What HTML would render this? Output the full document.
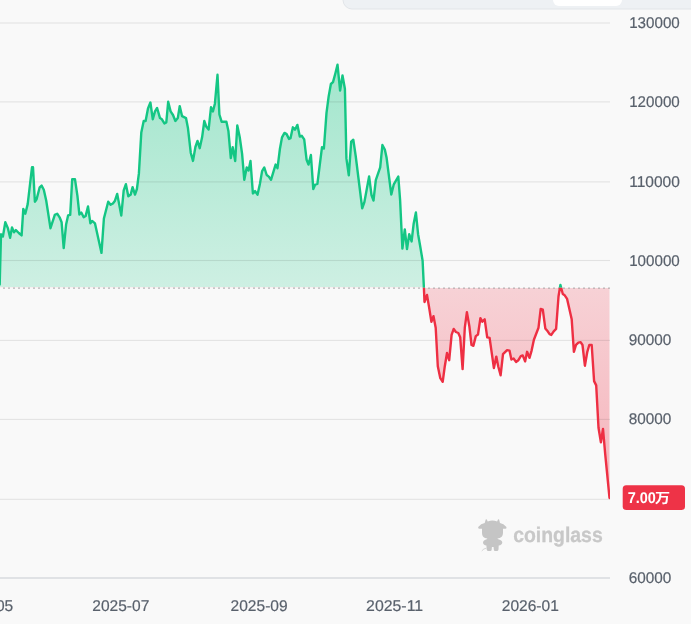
<!DOCTYPE html>
<html lang="zh"><head><meta charset="utf-8"><title>coinglass</title>
<style>
html,body{margin:0;padding:0;background:#f9f9f9;}
body{width:691px;height:624px;overflow:hidden;font-family:'Liberation Sans', sans-serif;}
svg{display:block}
.ax{text-rendering:geometricPrecision;font-family:'Liberation Sans', sans-serif;font-size:15.5px;fill:#59616c;stroke:#59616c;stroke-width:0.2px;}
</style></head><body>
<svg width="691" height="624" viewBox="0 0 691 624">
<defs>
<linearGradient id="gg" gradientUnits="userSpaceOnUse" x1="0" y1="-2" x2="0" y2="287.9">
<stop offset="0" stop-color="#16c784" stop-opacity="0.44"/><stop offset="1" stop-color="#16c784" stop-opacity="0.19"/></linearGradient>
<linearGradient id="rg" gradientUnits="userSpaceOnUse" x1="0" y1="287.9" x2="0" y2="578">
<stop offset="0" stop-color="#ee3348" stop-opacity="0.20"/><stop offset="1" stop-color="#ee3348" stop-opacity="0.41"/></linearGradient>
<clipPath id="ct"><rect x="0" y="-10" width="610" height="297.8"/></clipPath>
<clipPath id="cb"><rect x="0" y="287.8" width="610" height="400"/></clipPath>
<clipPath id="ft"><rect x="0" y="-10" width="610" height="297.0"/></clipPath>
<clipPath id="fb"><rect x="0" y="287.8" width="610" height="400"/></clipPath>
</defs>
<rect width="691" height="624" fill="#f9f9f9"/>
<!-- top panel -->
<path d="M343,-1 L343,0 A9,9 0 0 0 352,9 L692,9 L692,-1 Z" fill="#eef1f4" stroke="#e2e5e9" stroke-width="1"/>
<rect x="553" y="-8" width="69" height="14" rx="6" fill="#ffffff"/>

<path d="M-1,287.9 L-1,284 L-0.3,284.5 L1.0,234.2 L2.9,236.6 L5.3,222.2 L7.9,228.2 L10.1,237.8 L12.0,227.4 L14.0,232.3 L15.9,230.1 L18.8,233.0 L21.6,235.4 L23.3,208.9 L25.3,213.7 L27.7,204.1 L32.0,167.3 L33.0,167.3 L34.9,201.7 L36.6,199.3 L39.7,187.3 L41.6,185.6 L43.8,189.7 L46.2,200.5 L50.5,228.2 L54.8,214.9 L57.2,213.7 L59.6,217.3 L61.6,222.2 L63.7,248.1 L66.1,224.6 L68.1,215.4 L70.2,214.9 L72.2,179.3 L75.0,179.3 L77.4,195.7 L79.4,214.5 L81.3,212.5 L83.7,217.3 L85.6,216.1 L88.0,206.5 L90.4,223.4 L92.1,220.9 L95.0,223.4 L101.5,252.9 L103.9,218.5 L108.2,201.7 L110.6,204.8 L112.9,203.5 L114.8,201.1 L117.2,193.9 L121.3,215.5 L123.7,190.3 L125.9,184.2 L128.3,196.3 L130.7,194.6 L132.6,187.1 L135.0,194.6 L136.9,189.0 L138.9,173.4 L141.3,132.5 L143.7,121.0 L145.6,121.0 L148.0,108.5 L150.4,102.5 L152.8,119.3 L155.0,111.4 L157.1,108.0 L160.0,118.1 L161.9,119.3 L164.4,123.4 L166.3,122.4 L168.2,101.7 L170.6,111.4 L173.0,115.0 L175.4,121.0 L177.8,118.1 L179.7,106.1 L182.1,116.2 L186.0,118.1 L187.9,127.7 L190.8,153.0 L193.0,160.9 L195.4,147.0 L197.5,140.9 L199.7,148.2 L202.1,137.3 L204.3,121.0 L206.2,126.5 L208.6,129.6 L211.0,107.3 L212.9,111.4 L214.9,103.7 L217.5,74.8 L219.4,114.5 L221.6,121.7 L226.4,121.7 L228.4,130.9 L230.8,158.1 L232.7,147.1 L235.2,161.0 L237.3,125.4 L239.7,137.0 L242.1,153.8 L244.3,179.8 L246.7,167.5 L248.6,170.6 L250.5,161.0 L252.9,193.5 L255.1,191.1 L257.5,194.7 L259.9,183.9 L262.1,171.1 L264.3,167.5 L266.7,175.0 L268.8,176.6 L271.0,179.8 L273.4,171.8 L275.6,164.6 L277.5,168.2 L279.9,149.0 L282.0,137.4 L284.5,132.9 L286.6,134.1 L289.0,138.9 L290.5,138.2 L292.9,127.3 L295.0,129.7 L297.4,124.9 L299.8,136.5 L301.8,135.8 L304.2,139.4 L306.6,159.8 L308.5,164.6 L310.9,155.0 L313.3,189.1 L315.2,184.6 L317.4,183.9 L319.8,164.6 L322.0,147.1 L323.9,148.5 L326.5,112.9 L328.7,96.1 L330.9,84.0 L333.0,82.1 L335.4,73.2 L337.5,64.7 L340.1,90.6 L342.5,75.4 L344.9,88.7 L346.4,158.4 L348.8,175.3 L351.2,141.6 L353.3,139.7 L355.7,156.0 L362.2,208.3 L364.4,202.0 L369.1,176.5 L371.5,195.0 L373.5,200.5 L375.8,180.1 L380.2,167.4 L382.4,145.0 L384.8,149.5 L386.6,157.8 L391.3,194.5 L393.8,184.3 L398.3,176.5 L400.1,200.0 L402.4,248.6 L404.8,229.4 L407.0,249.1 L409.2,234.2 L411.6,241.4 L413.7,223.4 L415.9,212.5 L418.1,234.2 L420.2,246.2 L422.6,260.6 L423.9,287.8 L424.5,302.0 L427.0,295.0 L428.9,306.1 L431.4,321.7 L433.5,316.2 L435.7,327.7 L437.8,366.2 L440.3,378.2 L442.7,381.8 L444.8,366.2 L447.0,353.0 L449.2,360.2 L451.6,334.9 L453.7,328.9 L455.9,332.0 L458.3,333.0 L460.2,337.3 L462.6,369.1 L464.8,327.7 L466.9,312.1 L469.4,326.5 L471.5,345.0 L473.4,345.8 L475.8,336.1 L478.0,334.5 L480.4,318.1 L482.3,321.7 L484.7,319.3 L487.2,337.3 L489.6,337.8 L493.9,368.1 L496.3,356.6 L498.2,366.2 L500.6,375.3 L503.0,354.2 L507.1,350.1 L509.5,350.6 L511.4,359.5 L513.6,358.5 L516.0,361.9 L518.4,360.2 L520.8,356.1 L522.7,355.4 L525.1,361.4 L527.1,351.8 L529.5,357.8 L531.6,350.6 L533.9,339.7 L538.5,327.7 L540.7,309.0 L542.8,309.7 L545.3,328.4 L547.7,331.3 L549.6,334.2 L551.3,334.9 L553.7,331.3 L556.1,328.9 L558.5,296.5 L560.4,284.9 L562.8,294.0 L564.7,295.3 L567.1,298.9 L571.7,319.3 L573.9,351.8 L576.0,344.8 L578.4,342.6 L580.6,342.1 L582.5,345.0 L584.9,365.7 L587.3,351.8 L589.3,345.0 L591.7,345.0 L594.1,381.1 L596.2,385.4 L598.5,427.7 L600.9,442.2 L603.0,428.9 L605.2,454.2 L607.1,473.4 L609.5,498.0 L609.5,287.9 Z" fill="url(#gg)" clip-path="url(#ft)"/>
<path d="M-1,287.9 L-1,284 L-0.3,284.5 L1.0,234.2 L2.9,236.6 L5.3,222.2 L7.9,228.2 L10.1,237.8 L12.0,227.4 L14.0,232.3 L15.9,230.1 L18.8,233.0 L21.6,235.4 L23.3,208.9 L25.3,213.7 L27.7,204.1 L32.0,167.3 L33.0,167.3 L34.9,201.7 L36.6,199.3 L39.7,187.3 L41.6,185.6 L43.8,189.7 L46.2,200.5 L50.5,228.2 L54.8,214.9 L57.2,213.7 L59.6,217.3 L61.6,222.2 L63.7,248.1 L66.1,224.6 L68.1,215.4 L70.2,214.9 L72.2,179.3 L75.0,179.3 L77.4,195.7 L79.4,214.5 L81.3,212.5 L83.7,217.3 L85.6,216.1 L88.0,206.5 L90.4,223.4 L92.1,220.9 L95.0,223.4 L101.5,252.9 L103.9,218.5 L108.2,201.7 L110.6,204.8 L112.9,203.5 L114.8,201.1 L117.2,193.9 L121.3,215.5 L123.7,190.3 L125.9,184.2 L128.3,196.3 L130.7,194.6 L132.6,187.1 L135.0,194.6 L136.9,189.0 L138.9,173.4 L141.3,132.5 L143.7,121.0 L145.6,121.0 L148.0,108.5 L150.4,102.5 L152.8,119.3 L155.0,111.4 L157.1,108.0 L160.0,118.1 L161.9,119.3 L164.4,123.4 L166.3,122.4 L168.2,101.7 L170.6,111.4 L173.0,115.0 L175.4,121.0 L177.8,118.1 L179.7,106.1 L182.1,116.2 L186.0,118.1 L187.9,127.7 L190.8,153.0 L193.0,160.9 L195.4,147.0 L197.5,140.9 L199.7,148.2 L202.1,137.3 L204.3,121.0 L206.2,126.5 L208.6,129.6 L211.0,107.3 L212.9,111.4 L214.9,103.7 L217.5,74.8 L219.4,114.5 L221.6,121.7 L226.4,121.7 L228.4,130.9 L230.8,158.1 L232.7,147.1 L235.2,161.0 L237.3,125.4 L239.7,137.0 L242.1,153.8 L244.3,179.8 L246.7,167.5 L248.6,170.6 L250.5,161.0 L252.9,193.5 L255.1,191.1 L257.5,194.7 L259.9,183.9 L262.1,171.1 L264.3,167.5 L266.7,175.0 L268.8,176.6 L271.0,179.8 L273.4,171.8 L275.6,164.6 L277.5,168.2 L279.9,149.0 L282.0,137.4 L284.5,132.9 L286.6,134.1 L289.0,138.9 L290.5,138.2 L292.9,127.3 L295.0,129.7 L297.4,124.9 L299.8,136.5 L301.8,135.8 L304.2,139.4 L306.6,159.8 L308.5,164.6 L310.9,155.0 L313.3,189.1 L315.2,184.6 L317.4,183.9 L319.8,164.6 L322.0,147.1 L323.9,148.5 L326.5,112.9 L328.7,96.1 L330.9,84.0 L333.0,82.1 L335.4,73.2 L337.5,64.7 L340.1,90.6 L342.5,75.4 L344.9,88.7 L346.4,158.4 L348.8,175.3 L351.2,141.6 L353.3,139.7 L355.7,156.0 L362.2,208.3 L364.4,202.0 L369.1,176.5 L371.5,195.0 L373.5,200.5 L375.8,180.1 L380.2,167.4 L382.4,145.0 L384.8,149.5 L386.6,157.8 L391.3,194.5 L393.8,184.3 L398.3,176.5 L400.1,200.0 L402.4,248.6 L404.8,229.4 L407.0,249.1 L409.2,234.2 L411.6,241.4 L413.7,223.4 L415.9,212.5 L418.1,234.2 L420.2,246.2 L422.6,260.6 L423.9,287.8 L424.5,302.0 L427.0,295.0 L428.9,306.1 L431.4,321.7 L433.5,316.2 L435.7,327.7 L437.8,366.2 L440.3,378.2 L442.7,381.8 L444.8,366.2 L447.0,353.0 L449.2,360.2 L451.6,334.9 L453.7,328.9 L455.9,332.0 L458.3,333.0 L460.2,337.3 L462.6,369.1 L464.8,327.7 L466.9,312.1 L469.4,326.5 L471.5,345.0 L473.4,345.8 L475.8,336.1 L478.0,334.5 L480.4,318.1 L482.3,321.7 L484.7,319.3 L487.2,337.3 L489.6,337.8 L493.9,368.1 L496.3,356.6 L498.2,366.2 L500.6,375.3 L503.0,354.2 L507.1,350.1 L509.5,350.6 L511.4,359.5 L513.6,358.5 L516.0,361.9 L518.4,360.2 L520.8,356.1 L522.7,355.4 L525.1,361.4 L527.1,351.8 L529.5,357.8 L531.6,350.6 L533.9,339.7 L538.5,327.7 L540.7,309.0 L542.8,309.7 L545.3,328.4 L547.7,331.3 L549.6,334.2 L551.3,334.9 L553.7,331.3 L556.1,328.9 L558.5,296.5 L560.4,284.9 L562.8,294.0 L564.7,295.3 L567.1,298.9 L571.7,319.3 L573.9,351.8 L576.0,344.8 L578.4,342.6 L580.6,342.1 L582.5,345.0 L584.9,365.7 L587.3,351.8 L589.3,345.0 L591.7,345.0 L594.1,381.1 L596.2,385.4 L598.5,427.7 L600.9,442.2 L603.0,428.9 L605.2,454.2 L607.1,473.4 L609.5,498.0 L609.5,287.9 Z" fill="url(#rg)" clip-path="url(#fb)"/>
<rect x="0" y="22.45" width="610" height="1.1" fill="#000" fill-opacity="0.092"/>
<rect x="0" y="101.35" width="610" height="1.1" fill="#000" fill-opacity="0.092"/>
<rect x="0" y="181.35" width="610" height="1.1" fill="#000" fill-opacity="0.092"/>
<rect x="0" y="259.95" width="610" height="1.1" fill="#000" fill-opacity="0.092"/>
<rect x="0" y="339.85" width="610" height="1.1" fill="#000" fill-opacity="0.092"/>
<rect x="0" y="418.85" width="610" height="1.1" fill="#000" fill-opacity="0.092"/>
<rect x="0" y="498.75" width="610" height="1.1" fill="#000" fill-opacity="0.092"/>
<rect x="0" y="577" width="610" height="2" fill="#e0e2e5"/>
<line x1="3.3" y1="288.1" x2="610" y2="288.1" stroke="#9c9c9c" stroke-width="1.2" stroke-dasharray="1.4 3.6"/>
<path d="M-0.3,284.5 L1.0,234.2 L2.9,236.6 L5.3,222.2 L7.9,228.2 L10.1,237.8 L12.0,227.4 L14.0,232.3 L15.9,230.1 L18.8,233.0 L21.6,235.4 L23.3,208.9 L25.3,213.7 L27.7,204.1 L32.0,167.3 L33.0,167.3 L34.9,201.7 L36.6,199.3 L39.7,187.3 L41.6,185.6 L43.8,189.7 L46.2,200.5 L50.5,228.2 L54.8,214.9 L57.2,213.7 L59.6,217.3 L61.6,222.2 L63.7,248.1 L66.1,224.6 L68.1,215.4 L70.2,214.9 L72.2,179.3 L75.0,179.3 L77.4,195.7 L79.4,214.5 L81.3,212.5 L83.7,217.3 L85.6,216.1 L88.0,206.5 L90.4,223.4 L92.1,220.9 L95.0,223.4 L101.5,252.9 L103.9,218.5 L108.2,201.7 L110.6,204.8 L112.9,203.5 L114.8,201.1 L117.2,193.9 L121.3,215.5 L123.7,190.3 L125.9,184.2 L128.3,196.3 L130.7,194.6 L132.6,187.1 L135.0,194.6 L136.9,189.0 L138.9,173.4 L141.3,132.5 L143.7,121.0 L145.6,121.0 L148.0,108.5 L150.4,102.5 L152.8,119.3 L155.0,111.4 L157.1,108.0 L160.0,118.1 L161.9,119.3 L164.4,123.4 L166.3,122.4 L168.2,101.7 L170.6,111.4 L173.0,115.0 L175.4,121.0 L177.8,118.1 L179.7,106.1 L182.1,116.2 L186.0,118.1 L187.9,127.7 L190.8,153.0 L193.0,160.9 L195.4,147.0 L197.5,140.9 L199.7,148.2 L202.1,137.3 L204.3,121.0 L206.2,126.5 L208.6,129.6 L211.0,107.3 L212.9,111.4 L214.9,103.7 L217.5,74.8 L219.4,114.5 L221.6,121.7 L226.4,121.7 L228.4,130.9 L230.8,158.1 L232.7,147.1 L235.2,161.0 L237.3,125.4 L239.7,137.0 L242.1,153.8 L244.3,179.8 L246.7,167.5 L248.6,170.6 L250.5,161.0 L252.9,193.5 L255.1,191.1 L257.5,194.7 L259.9,183.9 L262.1,171.1 L264.3,167.5 L266.7,175.0 L268.8,176.6 L271.0,179.8 L273.4,171.8 L275.6,164.6 L277.5,168.2 L279.9,149.0 L282.0,137.4 L284.5,132.9 L286.6,134.1 L289.0,138.9 L290.5,138.2 L292.9,127.3 L295.0,129.7 L297.4,124.9 L299.8,136.5 L301.8,135.8 L304.2,139.4 L306.6,159.8 L308.5,164.6 L310.9,155.0 L313.3,189.1 L315.2,184.6 L317.4,183.9 L319.8,164.6 L322.0,147.1 L323.9,148.5 L326.5,112.9 L328.7,96.1 L330.9,84.0 L333.0,82.1 L335.4,73.2 L337.5,64.7 L340.1,90.6 L342.5,75.4 L344.9,88.7 L346.4,158.4 L348.8,175.3 L351.2,141.6 L353.3,139.7 L355.7,156.0 L362.2,208.3 L364.4,202.0 L369.1,176.5 L371.5,195.0 L373.5,200.5 L375.8,180.1 L380.2,167.4 L382.4,145.0 L384.8,149.5 L386.6,157.8 L391.3,194.5 L393.8,184.3 L398.3,176.5 L400.1,200.0 L402.4,248.6 L404.8,229.4 L407.0,249.1 L409.2,234.2 L411.6,241.4 L413.7,223.4 L415.9,212.5 L418.1,234.2 L420.2,246.2 L422.6,260.6 L423.9,287.8 L424.5,302.0 L427.0,295.0 L428.9,306.1 L431.4,321.7 L433.5,316.2 L435.7,327.7 L437.8,366.2 L440.3,378.2 L442.7,381.8 L444.8,366.2 L447.0,353.0 L449.2,360.2 L451.6,334.9 L453.7,328.9 L455.9,332.0 L458.3,333.0 L460.2,337.3 L462.6,369.1 L464.8,327.7 L466.9,312.1 L469.4,326.5 L471.5,345.0 L473.4,345.8 L475.8,336.1 L478.0,334.5 L480.4,318.1 L482.3,321.7 L484.7,319.3 L487.2,337.3 L489.6,337.8 L493.9,368.1 L496.3,356.6 L498.2,366.2 L500.6,375.3 L503.0,354.2 L507.1,350.1 L509.5,350.6 L511.4,359.5 L513.6,358.5 L516.0,361.9 L518.4,360.2 L520.8,356.1 L522.7,355.4 L525.1,361.4 L527.1,351.8 L529.5,357.8 L531.6,350.6 L533.9,339.7 L538.5,327.7 L540.7,309.0 L542.8,309.7 L545.3,328.4 L547.7,331.3 L549.6,334.2 L551.3,334.9 L553.7,331.3 L556.1,328.9 L558.5,296.5 L560.4,284.9 L562.8,294.0 L564.7,295.3 L567.1,298.9 L571.7,319.3 L573.9,351.8 L576.0,344.8 L578.4,342.6 L580.6,342.1 L582.5,345.0 L584.9,365.7 L587.3,351.8 L589.3,345.0 L591.7,345.0 L594.1,381.1 L596.2,385.4 L598.5,427.7 L600.9,442.2 L603.0,428.9 L605.2,454.2 L607.1,473.4 L609.5,498.0" fill="none" stroke="#14c684" stroke-width="2.4" stroke-linejoin="round" stroke-linecap="round" clip-path="url(#ct)"/>
<path d="M-0.3,284.5 L1.0,234.2 L2.9,236.6 L5.3,222.2 L7.9,228.2 L10.1,237.8 L12.0,227.4 L14.0,232.3 L15.9,230.1 L18.8,233.0 L21.6,235.4 L23.3,208.9 L25.3,213.7 L27.7,204.1 L32.0,167.3 L33.0,167.3 L34.9,201.7 L36.6,199.3 L39.7,187.3 L41.6,185.6 L43.8,189.7 L46.2,200.5 L50.5,228.2 L54.8,214.9 L57.2,213.7 L59.6,217.3 L61.6,222.2 L63.7,248.1 L66.1,224.6 L68.1,215.4 L70.2,214.9 L72.2,179.3 L75.0,179.3 L77.4,195.7 L79.4,214.5 L81.3,212.5 L83.7,217.3 L85.6,216.1 L88.0,206.5 L90.4,223.4 L92.1,220.9 L95.0,223.4 L101.5,252.9 L103.9,218.5 L108.2,201.7 L110.6,204.8 L112.9,203.5 L114.8,201.1 L117.2,193.9 L121.3,215.5 L123.7,190.3 L125.9,184.2 L128.3,196.3 L130.7,194.6 L132.6,187.1 L135.0,194.6 L136.9,189.0 L138.9,173.4 L141.3,132.5 L143.7,121.0 L145.6,121.0 L148.0,108.5 L150.4,102.5 L152.8,119.3 L155.0,111.4 L157.1,108.0 L160.0,118.1 L161.9,119.3 L164.4,123.4 L166.3,122.4 L168.2,101.7 L170.6,111.4 L173.0,115.0 L175.4,121.0 L177.8,118.1 L179.7,106.1 L182.1,116.2 L186.0,118.1 L187.9,127.7 L190.8,153.0 L193.0,160.9 L195.4,147.0 L197.5,140.9 L199.7,148.2 L202.1,137.3 L204.3,121.0 L206.2,126.5 L208.6,129.6 L211.0,107.3 L212.9,111.4 L214.9,103.7 L217.5,74.8 L219.4,114.5 L221.6,121.7 L226.4,121.7 L228.4,130.9 L230.8,158.1 L232.7,147.1 L235.2,161.0 L237.3,125.4 L239.7,137.0 L242.1,153.8 L244.3,179.8 L246.7,167.5 L248.6,170.6 L250.5,161.0 L252.9,193.5 L255.1,191.1 L257.5,194.7 L259.9,183.9 L262.1,171.1 L264.3,167.5 L266.7,175.0 L268.8,176.6 L271.0,179.8 L273.4,171.8 L275.6,164.6 L277.5,168.2 L279.9,149.0 L282.0,137.4 L284.5,132.9 L286.6,134.1 L289.0,138.9 L290.5,138.2 L292.9,127.3 L295.0,129.7 L297.4,124.9 L299.8,136.5 L301.8,135.8 L304.2,139.4 L306.6,159.8 L308.5,164.6 L310.9,155.0 L313.3,189.1 L315.2,184.6 L317.4,183.9 L319.8,164.6 L322.0,147.1 L323.9,148.5 L326.5,112.9 L328.7,96.1 L330.9,84.0 L333.0,82.1 L335.4,73.2 L337.5,64.7 L340.1,90.6 L342.5,75.4 L344.9,88.7 L346.4,158.4 L348.8,175.3 L351.2,141.6 L353.3,139.7 L355.7,156.0 L362.2,208.3 L364.4,202.0 L369.1,176.5 L371.5,195.0 L373.5,200.5 L375.8,180.1 L380.2,167.4 L382.4,145.0 L384.8,149.5 L386.6,157.8 L391.3,194.5 L393.8,184.3 L398.3,176.5 L400.1,200.0 L402.4,248.6 L404.8,229.4 L407.0,249.1 L409.2,234.2 L411.6,241.4 L413.7,223.4 L415.9,212.5 L418.1,234.2 L420.2,246.2 L422.6,260.6 L423.9,287.8 L424.5,302.0 L427.0,295.0 L428.9,306.1 L431.4,321.7 L433.5,316.2 L435.7,327.7 L437.8,366.2 L440.3,378.2 L442.7,381.8 L444.8,366.2 L447.0,353.0 L449.2,360.2 L451.6,334.9 L453.7,328.9 L455.9,332.0 L458.3,333.0 L460.2,337.3 L462.6,369.1 L464.8,327.7 L466.9,312.1 L469.4,326.5 L471.5,345.0 L473.4,345.8 L475.8,336.1 L478.0,334.5 L480.4,318.1 L482.3,321.7 L484.7,319.3 L487.2,337.3 L489.6,337.8 L493.9,368.1 L496.3,356.6 L498.2,366.2 L500.6,375.3 L503.0,354.2 L507.1,350.1 L509.5,350.6 L511.4,359.5 L513.6,358.5 L516.0,361.9 L518.4,360.2 L520.8,356.1 L522.7,355.4 L525.1,361.4 L527.1,351.8 L529.5,357.8 L531.6,350.6 L533.9,339.7 L538.5,327.7 L540.7,309.0 L542.8,309.7 L545.3,328.4 L547.7,331.3 L549.6,334.2 L551.3,334.9 L553.7,331.3 L556.1,328.9 L558.5,296.5 L560.4,284.9 L562.8,294.0 L564.7,295.3 L567.1,298.9 L571.7,319.3 L573.9,351.8 L576.0,344.8 L578.4,342.6 L580.6,342.1 L582.5,345.0 L584.9,365.7 L587.3,351.8 L589.3,345.0 L591.7,345.0 L594.1,381.1 L596.2,385.4 L598.5,427.7 L600.9,442.2 L603.0,428.9 L605.2,454.2 L607.1,473.4 L609.5,498.0" fill="none" stroke="#ee2f43" stroke-width="2.4" stroke-linejoin="round" stroke-linecap="round" clip-path="url(#cb)"/>
<text class="ax" x="629.2" y="27.9" textLength="50.6" lengthAdjust="spacingAndGlyphs">130000</text>
<text class="ax" x="629.2" y="106.9" textLength="50.6" lengthAdjust="spacingAndGlyphs">120000</text>
<text class="ax" x="629.2" y="186.6" textLength="50.6" lengthAdjust="spacingAndGlyphs">110000</text>
<text class="ax" x="629.2" y="265.5" textLength="50.6" lengthAdjust="spacingAndGlyphs">100000</text>
<text class="ax" x="628.7" y="345.2" textLength="42.6" lengthAdjust="spacingAndGlyphs">90000</text>
<text class="ax" x="628.7" y="424.3" textLength="42.6" lengthAdjust="spacingAndGlyphs">80000</text>
<text class="ax" x="628.7" y="582.9" textLength="42.6" lengthAdjust="spacingAndGlyphs">60000</text>
<text class="ax" x="-43.8" y="610.9" textLength="57" lengthAdjust="spacingAndGlyphs">2025-05</text>
<text class="ax" x="92.3" y="610.9" textLength="57" lengthAdjust="spacingAndGlyphs">2025-07</text>
<text class="ax" x="230.6" y="610.9" textLength="57" lengthAdjust="spacingAndGlyphs">2025-09</text>
<text class="ax" x="366.1" y="610.9" textLength="57" lengthAdjust="spacingAndGlyphs">2025-11</text>
<text class="ax" x="501.8" y="610.9" textLength="57" lengthAdjust="spacingAndGlyphs">2026-01</text>
<rect x="622.7" y="485.3" width="62.3" height="24.6" rx="3.5" fill="#ee3347"/>
<text x="627.7" y="502.9" font-family="'Liberation Sans', 'Noto Sans CJK SC', sans-serif" font-size="15.5" font-weight="700" fill="#ffffff" text-rendering="geometricPrecision" textLength="28.2" lengthAdjust="spacingAndGlyphs">7.00</text>
<text x="655.0" y="502.6" font-family="'Liberation Sans', 'Noto Sans CJK SC', sans-serif" font-size="14.2" font-weight="700" fill="#ffffff" text-rendering="geometricPrecision" textLength="15.1" lengthAdjust="spacingAndGlyphs">万</text>
<g fill="#c5c5c5">
<path d="M484.7,523 L485.7,519.6 Q486.2,518.8 486.8,519.6 L487.7,521.4 Q492.4,519.6 497.1,521.4 L498,519.6 Q498.6,518.8 499.1,519.6 L500,523 Q503.6,523.6 506.4,527 Q507,528.8 505.6,528.8 L503,528.8 L503,532.6 C503,537 500.6,538.3 497.6,538.4 L497.6,538.9 Q502.4,540.2 502.3,542.5 Q502,545.2 498.7,545.6 L498.5,549.4 Q498.3,551 496.8,551 L495.2,551 Q493.9,550.9 493.8,549.4 L493.6,546.9 L491.9,546.9 L491.7,549.4 Q491.6,550.9 490.3,551 L488.4,551 Q486.9,551 486.7,549.4 L486.4,545.6 Q483.2,545.2 483,542.5 Q483,540.2 487.2,538.9 L487.2,538.4 C484.2,538.3 482,537 482,532.6 L482,528.8 L479.2,528.8 Q477.8,528.8 478.2,527 Q481,523.6 484.7,523 Z"/>
<path d="M482,550.6 Q483.6,548.6 486,548.2" fill="none" stroke="#c5c5c5" stroke-width="0.7" stroke-linecap="round"/>
</g>
<text x="513.2" y="542.4" font-family="'Liberation Sans', sans-serif" font-size="21.2" font-weight="700" fill="#c8c8c8" stroke="#c8c8c8" stroke-width="0.3" text-rendering="geometricPrecision" textLength="89.5" lengthAdjust="spacingAndGlyphs">coinglass</text>
</svg></body></html>
